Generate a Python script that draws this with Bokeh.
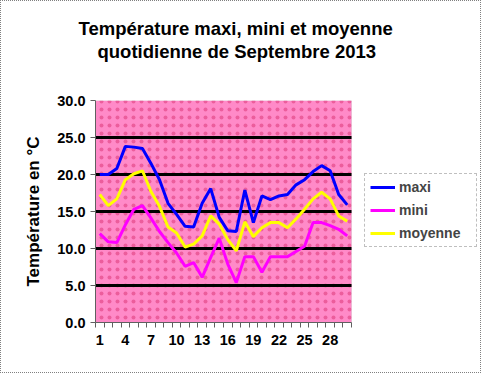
from bokeh.plotting import figure
from bokeh.models import (FixedTicker, Legend, LegendItem, Title, BoxAnnotation,
                          Range1d, PrintfTickFormatter)
from bokeh.embed import file_html
from bokeh.resources import INLINE

days = list(range(1, 31))
maxi = [20.0, 20.0, 20.8, 23.8, 23.7, 23.5, 21.5, 19.3, 16.1, 14.6,
        13.0, 12.9, 16.1, 18.1, 14.2, 12.4, 12.3, 17.9, 13.5, 17.1,
        16.6, 17.1, 17.3, 18.6, 19.3, 20.4, 21.2, 20.5, 17.3, 15.9]
mini = [12.0, 10.9, 10.8, 13.2, 15.3, 15.8, 14.1, 12.3, 10.8, 9.4,
        7.6, 8.1, 6.1, 8.8, 11.4, 7.9, 5.4, 8.9, 8.9, 6.8,
        8.9, 8.9, 8.9, 9.6, 10.3, 13.5, 13.5, 13.1, 12.6, 11.7]
moyenne = [17.3, 15.8, 16.7, 19.3, 20.1, 20.5, 17.7, 15.7, 12.9, 12.1,
           10.2, 10.6, 11.7, 14.4, 13.3, 11.2, 9.7, 13.6, 11.6, 12.8,
           13.5, 13.5, 12.8, 14.0, 15.3, 16.7, 17.6, 16.7, 14.4, 13.7]
x_labels = [1, 4, 7, 10, 13, 16, 19, 22, 25, 28]
y_ticks = [0, 5, 10, 15, 20, 25, 30]
grid_vals = [5, 10, 15, 20, 25]
title_lines = ["Température maxi, mini et moyenne", "quotidienne de Septembre 2013"]
y_title = "Température en °C"

FONT = "Liberation Sans"
X0, X1 = 0.5, 30.5          # category area of the plot
FRAME_PX = 386               # frame width incl. legend area
PLOT_PX = 256                # pink plot area width
x_end = X0 + (X1 - X0) * FRAME_PX / PLOT_PX

p = figure(width=481, height=373, output_backend="svg", toolbar_location=None,
           title=None,
           x_range=Range1d(X0, x_end), y_range=Range1d(0, 30),
           min_border_left=94, min_border_right=1, min_border_top=99,
           min_border_bottom=52)
p.styles = {"border": "1px dotted #808080"}
p.background_fill_color = "white"
p.border_fill_color = "white"
p.outline_line_color = None

# pink plot area
p.add_layout(BoxAnnotation(left=X0, right=X1, bottom=0, top=30,
                           fill_color="#FF8AC8", fill_alpha=1,
                           line_color="#808080", line_dash="1 1", line_width=1,
                           hatch_pattern="dot", hatch_color="#E0407F",
                           hatch_scale=8, hatch_weight=0.3, hatch_alpha=0.6,
                           level="image"))

# horizontal grid lines, limited to the plot area
p.xgrid.visible = False
p.ygrid.visible = False
p.segment(x0=[X0] * len(grid_vals), y0=grid_vals, x1=[X1] * len(grid_vals),
          y1=grid_vals, line_color="black", line_width=3)

# axes
p.xaxis.bounds = (X0, X1)
p.xaxis.ticker = FixedTicker(ticks=x_labels, minor_ticks=[d - 0.5 for d in days] + [30.5])
p.xaxis.major_tick_line_color = None
p.xaxis.minor_tick_line_color = "#606060"
p.xaxis.minor_tick_out = 5
p.xaxis.minor_tick_in = 0
p.xaxis.axis_line_color = "#606060"
p.xaxis.major_label_text_font = FONT
p.xaxis.major_label_text_font_style = "bold"
p.xaxis.major_label_text_font_size = "14.5px"
p.xaxis.major_label_text_color = "black"
p.xaxis.major_label_standoff = 6

p.yaxis.ticker = FixedTicker(ticks=y_ticks)
p.yaxis.formatter = PrintfTickFormatter(format="%.1f")
p.yaxis.minor_tick_line_color = None
p.yaxis.major_tick_out = 5
p.yaxis.major_tick_in = 0
p.yaxis.major_tick_line_color = "#606060"
p.yaxis.axis_line_color = "#606060"
p.yaxis.major_label_text_font = FONT
p.yaxis.major_label_text_font_style = "bold"
p.yaxis.major_label_text_font_size = "14.5px"
p.yaxis.major_label_text_color = "black"
p.yaxis.major_label_standoff = 5
p.yaxis.axis_label = y_title
p.yaxis.axis_label_text_font = FONT
p.yaxis.axis_label_text_font_style = "bold"
p.yaxis.axis_label_text_font_size = "17px"
p.yaxis.axis_label_text_color = "black"
p.yaxis.axis_label_standoff = 11

r_max = p.line(days, maxi, line_color="#0000FF", line_width=3)
r_min = p.line(days, mini, line_color="#FF00FF", line_width=3)
r_moy = p.line(days, moyenne, line_color="#FFFF00", line_width=3)

legend = Legend(items=[LegendItem(label="maxi", renderers=[r_max]),
                       LegendItem(label="mini", renderers=[r_min]),
                       LegendItem(label="moyenne", renderers=[r_moy])],
                location=(269, 75), orientation="vertical",
                label_text_font=FONT, label_text_font_style="bold",
                label_text_font_size="14px", glyph_width=25, glyph_height=16,
                label_height=16, label_width=72,
                label_standoff=4, spacing=7, padding=5, margin=0,
                border_line_color="#808080", border_line_dash="1 1",
                background_fill_color="white", background_fill_alpha=1)
p.add_layout(legend, "center")

# titles: spacer nearest the frame, then the two lines outward
p.add_layout(Title(text=" ", text_font_size="24px", text_font=FONT), "above")
p.add_layout(Title(text=title_lines[1], align="left", offset=2, standoff=0,
                   text_font=FONT, text_font_style="bold", text_font_size="18.5px",
                   text_color="black"), "above")
p.add_layout(Title(text=title_lines[0], align="left", offset=-17, standoff=0,
                   text_font=FONT, text_font_style="bold", text_font_size="18.5px",
                   text_color="black"), "above")

open("out.html", "w").write(file_html(p, INLINE))
